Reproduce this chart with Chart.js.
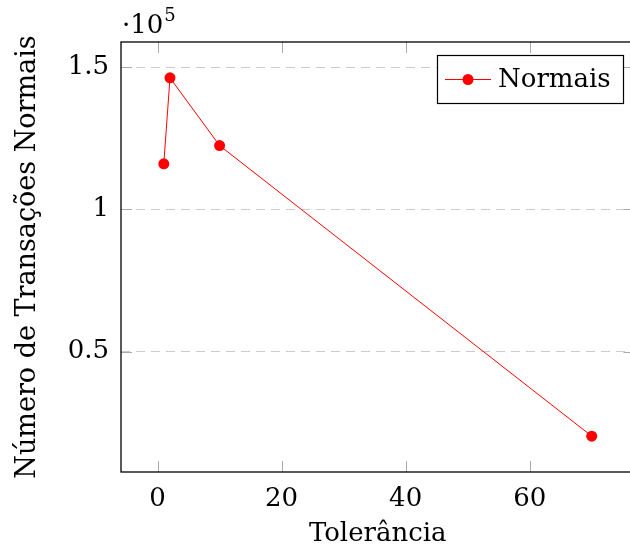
<!DOCTYPE html>
<html>
<head>
<meta charset="utf-8">
<script src="https://cdn.jsdelivr.net/npm/chart.js@4.4.1/dist/chart.umd.min.js"></script>
<style>
  html, body { margin: 0; padding: 0; background: #fff; overflow: hidden; }
  #wrap { width: 640px; height: 551px; }
</style>
</head>
<body>
<div id="wrap"><canvas id="grafico" width="640" height="551"></canvas></div>
<script>
// dados
const tolerancia = [1, 2, 10, 70];
const normais = [116000, 146200, 122400, 20300];
const xTicks = [0, 20, 40, 60];
const yTicks = [50000, 100000, 150000];
const serieNome = 'Normais';

const fonte = "'DejaVu Serif', serif";
const tam = 26;

// moldura, ticks para dentro, legenda e o fator 10^5
const extras = {
  id: 'extras',
  afterDraw(chart) {
    const ctx = chart.ctx;
    const a = chart.chartArea;
    const sx = chart.scales.x, sy = chart.scales.y;
    ctx.save();
    // ticks internos
    ctx.strokeStyle = '#aaaaaa';
    ctx.lineWidth = 1;
    xTicks.forEach(v => {
      const px = Math.round(sx.getPixelForValue(v)) + 0.5;
      ctx.beginPath();
      ctx.moveTo(px, a.bottom); ctx.lineTo(px, a.bottom - 11);
      ctx.moveTo(px, a.top); ctx.lineTo(px, a.top + 11);
      ctx.stroke();
    });
    yTicks.forEach(v => {
      const py = Math.round(sy.getPixelForValue(v)) + 0.5;
      ctx.beginPath();
      ctx.moveTo(a.left, py); ctx.lineTo(a.left + 11, py);
      ctx.moveTo(a.right, py); ctx.lineTo(a.right - 11, py);
      ctx.stroke();
    });
    // moldura
    ctx.strokeStyle = '#000';
    ctx.lineWidth = 1.3;
    ctx.strokeRect(a.left, a.top, a.right - a.left, a.bottom - a.top);

    // legenda
    const ds = chart.data.datasets[0];
    const lx = 437, ly = 55, lw = 186, lh = 48;
    ctx.fillStyle = '#fff';
    ctx.fillRect(lx, ly, lw, lh);
    ctx.strokeStyle = '#000';
    ctx.lineWidth = 1.2;
    ctx.strokeRect(lx + 0.5, ly + 0.5, lw, lh);
    const cy = ly + lh / 2 + 0.5;
    ctx.strokeStyle = ds.borderColor;
    ctx.lineWidth = 1;
    ctx.beginPath();
    ctx.moveTo(lx + 8, cy); ctx.lineTo(lx + 54, cy);
    ctx.stroke();
    ctx.fillStyle = ds.pointBackgroundColor;
    ctx.beginPath();
    ctx.arc(lx + 31, cy, 5.5, 0, Math.PI * 2);
    ctx.fill();
    ctx.fillStyle = '#000';
    ctx.font = tam + 'px ' + fonte;
    ctx.textBaseline = 'middle';
    ctx.textAlign = 'left';
    ctx.fillText(ds.label, lx + 61, cy + 1);

    // fator de escala
    ctx.textBaseline = 'alphabetic';
    ctx.font = tam + 'px ' + fonte;
    const base = '\u00b710';
    ctx.fillText(base, 122, 33);
    const w = ctx.measureText(base).width;
    ctx.font = '18px ' + fonte;
    ctx.fillText('5', 122 + w + 1, 21);
    ctx.restore();
  }
};

new Chart(document.getElementById('grafico'), {
  type: 'line',
  data: {
    datasets: [{
      label: serieNome,
      data: tolerancia.map((t, i) => ({ x: t, y: normais[i] })),
      borderColor: '#ff0000',
      backgroundColor: '#ff0000',
      pointBackgroundColor: '#ff0000',
      pointBorderColor: '#ff0000',
      pointRadius: 5.5,
      pointBorderWidth: 0,
      borderWidth: 1,
      tension: 0
    }]
  },
  options: {
    responsive: false,
    animation: false,
    layout: { padding: { top: 42, left: 0, right: 0, bottom: 0 } },
    plugins: {
      legend: { display: false },
      tooltip: { enabled: false }
    },
    scales: {
      x: {
        type: 'linear',
        min: -5.9,
        max: 76.9,
        afterBuildTicks: s => { s.ticks = xTicks.map(v => ({ value: v })); },
        afterFit: s => { s.height = 79; },
        grid: { display: false, drawTicks: false },
        border: { display: false },
        ticks: {
          color: '#000',
          padding: 12,
          font: { family: fonte, size: tam },
          maxRotation: 0
        },
        title: {
          display: true,
          text: 'Tolerância',
          color: '#000',
          font: { family: fonte, size: tam, lineHeight: 1 },
          padding: { top: 0, bottom: 4 }
        }
      },
      y: {
        min: 7700,
        max: 158800,
        afterBuildTicks: s => { s.ticks = yTicks.map(v => ({ value: v })); },
        afterFit: s => { s.width = 121; },
        grid: {
          color: '#cccccc',
          lineWidth: 1,
          drawTicks: false
        },
        border: { display: false, dash: [9, 6] },
        ticks: {
          color: '#000',
          padding: 12,
          font: { family: fonte, size: tam },
          callback: v => String(v / 100000)
        },
        title: {
          display: true,
          text: 'Número de Transações Normais',
          color: '#000',
          font: { family: fonte, size: 27, lineHeight: 1 },
          padding: { top: 14, bottom: 0 }
        }
      }
    }
  },
  plugins: [extras]
});
</script>
</body>
</html>
